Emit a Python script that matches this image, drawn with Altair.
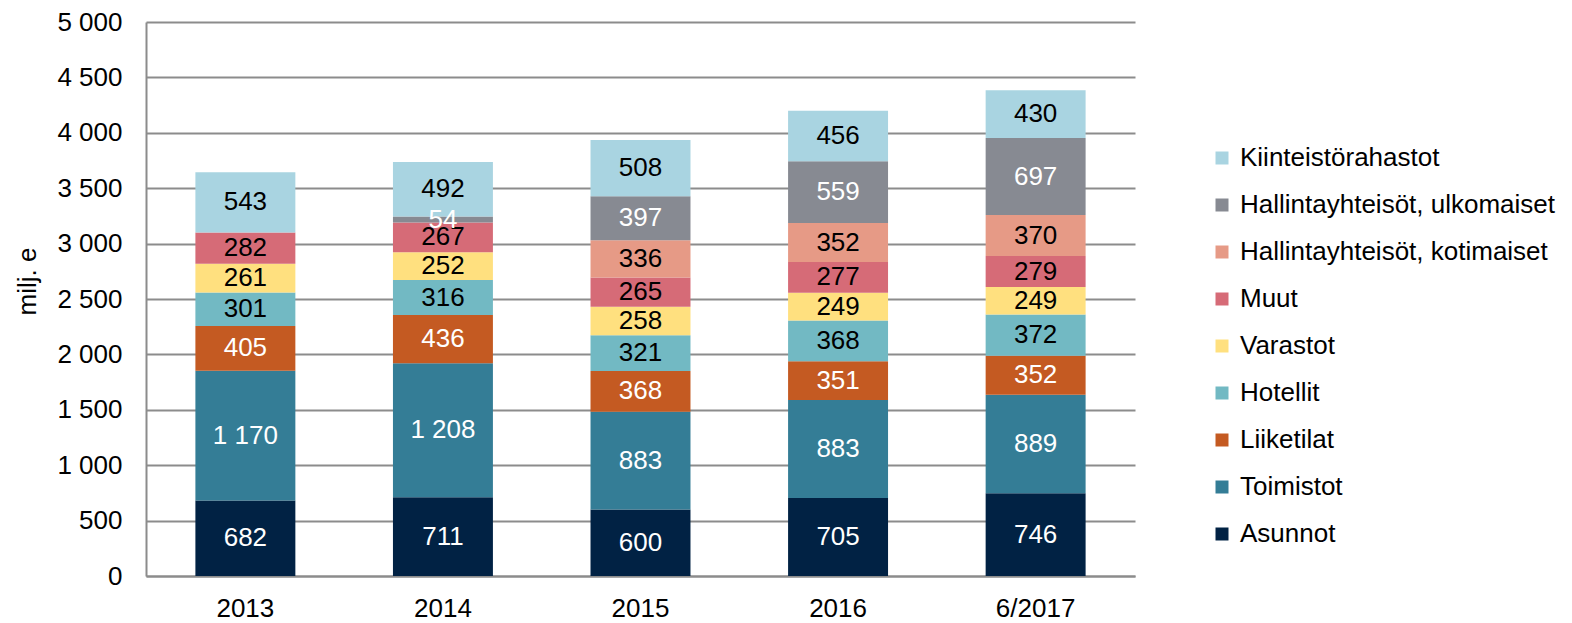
import altair as alt
import pandas as pd

years = ["2013", "2014", "2015", "2016", "6/2017"]
series = [
    "Asunnot", "Toimistot", "Liiketilat", "Hotellit", "Varastot", "Muut",
    "Hallintayhteisöt, kotimaiset", "Hallintayhteisöt, ulkomaiset", "Kiinteistörahastot",
]
colors = ["#012244", "#347d96", "#c45a22", "#72b9c3", "#ffe07f", "#d66b77",
          "#e69a86", "#878a92", "#a9d4e1"]
text_colors = ["white", "white", "white", "black", "black", "black",
               "black", "white", "black"]

asunnot = [682, 711, 600, 705, 746]
toimistot = [1170, 1208, 883, 883, 889]
liiketilat = [405, 436, 368, 351, 352]
hotellit = [301, 316, 321, 368, 372]
varastot = [261, 252, 258, 249, 249]
muut = [282, 267, 265, 277, 279]
hall_koti = [0, 0, 336, 352, 370]
hall_ulko = [0, 54, 397, 559, 697]
rahastot = [543, 492, 508, 456, 430]

values = [asunnot, toimistot, liiketilat, hotellit, varastot, muut,
          hall_koti, hall_ulko, rahastot]

rows = []
for si, (s, vals) in enumerate(zip(series, values)):
    for y, v in zip(years, vals):
        if v > 0:
            rows.append({
                "year": y, "series": s, "value": v, "order": si,
                "label": f"{v:,}".replace(",", " "),
                "tcolor": text_colors[si],
            })
df = pd.DataFrame(rows)

FONT = "Liberation Sans"
legend_domain = series[::-1]
legend_range = colors[::-1]

base = alt.Chart(df).transform_stack(
    stack="value", groupby=["year"], as_=["y0", "y1"],
    sort=[alt.SortField("order", order="ascending")],
).transform_calculate(mid="(datum.y0 + datum.y1) / 2")

xenc = alt.X("year:N", sort=years, title=None,
             scale=alt.Scale(paddingInner=0.494, paddingOuter=0.25),
             axis=alt.Axis(labelAngle=0, labelFont=FONT, labelFontSize=26,
                           labelColor="black", labelPadding=19, ticks=False,
                           domainColor="#8c8c8c", domainWidth=2))

bars = base.mark_bar().encode(
    x=xenc,
    y=alt.Y("y0:Q", scale=alt.Scale(domain=[0, 5000]), title="milj. e",
            axis=alt.Axis(values=list(range(0, 5001, 500)),
                          labelExpr="replace(format(datum.value, ','), ',', ' ')",
                          labelFont=FONT, labelFontSize=26, labelColor="black",
                          labelPadding=24, ticks=False,
                          titleFont=FONT, titleFontSize=26, titleFontWeight="normal",
                          titleColor="black", titlePadding=16, titleY=259,
                          grid=True, gridColor="#8c8c8c", gridWidth=2,
                          domainColor="#8c8c8c", domainWidth=2)),
    y2="y1:Q",
    color=alt.Color("series:N",
                    scale=alt.Scale(domain=legend_domain, range=legend_range),
                    legend=alt.Legend(title=None, orient="none", legendX=1063,
                                      legendY=123, labelFont=FONT,
                                      labelFontSize=26, labelColor="black",
                                      symbolType="square", symbolSize=169,
                                      symbolStrokeWidth=0, rowPadding=21,
                                      labelOffset=5, labelLimit=500)),
    order=alt.Order("order:Q"),
)

labels = base.mark_text(font=FONT, fontSize=26, baseline="middle").encode(
    x=alt.X("year:N", sort=years),
    y=alt.Y("mid:Q"),
    text="label:N",
    color=alt.Color("tcolor:N", scale=None),
)

chart = alt.layer(bars, labels).properties(
    width=989, height=554,
    autosize=alt.AutoSizeParams(type="none"),
    padding={"left": 138, "top": 14, "right": 429, "bottom": 46},
).configure_view(stroke=None).configure_axis(gridCap="butt")

chart.save("out.html", embed_options={"renderer": "svg", "actions": False})
